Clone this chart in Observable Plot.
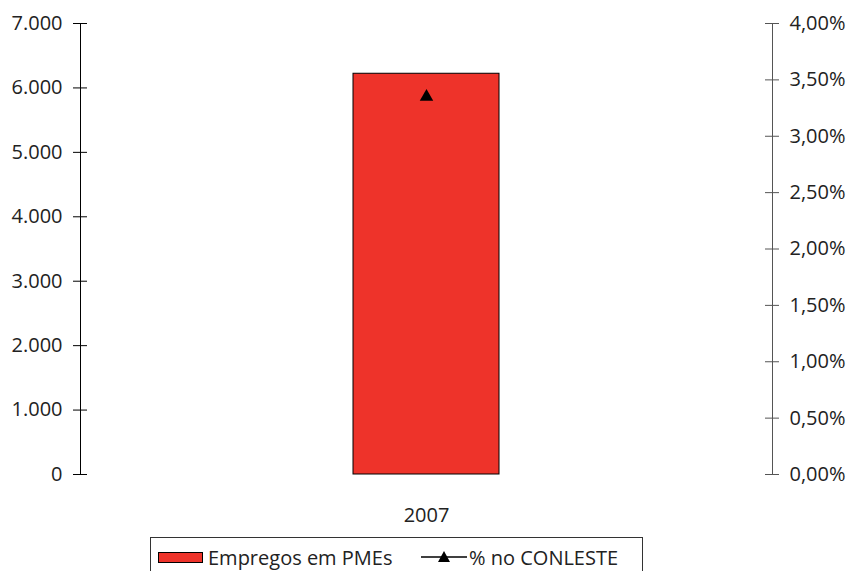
<!DOCTYPE html>
<html><head><meta charset="utf-8">
<script src="https://cdn.jsdelivr.net/npm/d3@7"></script>
<script src="https://cdn.jsdelivr.net/npm/@observablehq/plot@0.6"></script>
<style>
body{margin:0;background:#fff;font-family:"Open Sans",sans-serif;}
#wrap{position:relative;width:853px;height:571px;overflow:hidden;}
#legend{position:absolute;left:150px;top:537px;width:491px;height:40px;border:1px solid #333;font-size:20px;color:#222;}
#legend .it{position:absolute;line-height:22px;white-space:nowrap;}
#legend .sw{position:absolute;left:7px;top:14px;width:43px;height:9px;background:#EE332A;border:1px solid #000;}
#legend svg{position:absolute;left:270px;top:11px;}
</style></head><body><div id="wrap"></div>
<script>
const years = ["2007"];
const empregos = [6220];
const pctConleste = [3.35]; // percent
const leftTicks = [0, 1000, 2000, 3000, 4000, 5000, 6000, 7000];
const rightTicks = [0, 0.5, 1, 1.5, 2, 2.5, 3, 3.5, 4];
const leftMax = 7000, rightMax = 4;
const seriesNames = ["Empregos em PMEs", "% no CONLESTE"];

const toLeft = p => p / rightMax * leftMax;
const data = years.map((y, i) => ({year: y, emp: empregos[i], pct: pctConleste[i]}));
const fmtInt = d => d3.format(",")(d).replace(/,/g, ".");
const fmtPct = d => d.toFixed(2).replace(".", ",") + "%";

const W = 853, ML = 80, MR = 81, inner = W - ML - MR;

const chart = Plot.plot({
  width: W, height: 530, marginLeft: ML, marginRight: MR, marginTop: 23, marginBottom: 56,
  style: {fontFamily: "Open Sans", fontSize: "20px", color: "#222", background: "white"},
  x: {domain: years, padding: 0.6516, label: null},
  y: {domain: [0, leftMax], label: null},
  marks: [
    Plot.barY(data, {x: "year", y: "emp", fill: "#EE332A", stroke: "#000", strokeWidth: 1}),
    Plot.dot(data, {x: "year", y: d => toLeft(d.pct), symbol: "triangle", fill: "#000", stroke: "none", r: 5}),
    Plot.frame({anchor: "left", stroke: "#000"}),
    Plot.frame({anchor: "right", stroke: "#555"}),
    Plot.ruleY(leftTicks, {insetLeft: -7, insetRight: inner - 7, stroke: "#000"}),
    Plot.ruleY(rightTicks.map(toLeft), {insetLeft: inner - 7, insetRight: -7, stroke: "#555"}),
    Plot.axisY(leftTicks, {anchor: "left", tickSize: 0, tickPadding: 18, tickFormat: fmtInt, label: null}),
    Plot.axisY(rightTicks.map(toLeft), {anchor: "right", tickSize: 0, tickPadding: 17, tickFormat: d => fmtPct(d / leftMax * rightMax), label: null}),
    Plot.axisX({tickSize: 0, tickPadding: 33, label: null})
  ]
});
const wrap = document.getElementById("wrap");
wrap.appendChild(chart);

const legend = document.createElement("div");
legend.id = "legend";
legend.innerHTML = `
  <span class="sw"></span>
  <span class="it" style="left:57px;top:9px">${seriesNames[0]}</span>
  <svg width="46" height="14"><line x1="0" x2="46" y1="8" y2="8" stroke="#000" stroke-width="1.5"/><path d="M23,2 L29,13 L17,13 Z" fill="#000"/></svg>
  <span class="it" style="left:318px;top:9px">${seriesNames[1]}</span>`;
wrap.appendChild(legend);
</script>
</body></html>
